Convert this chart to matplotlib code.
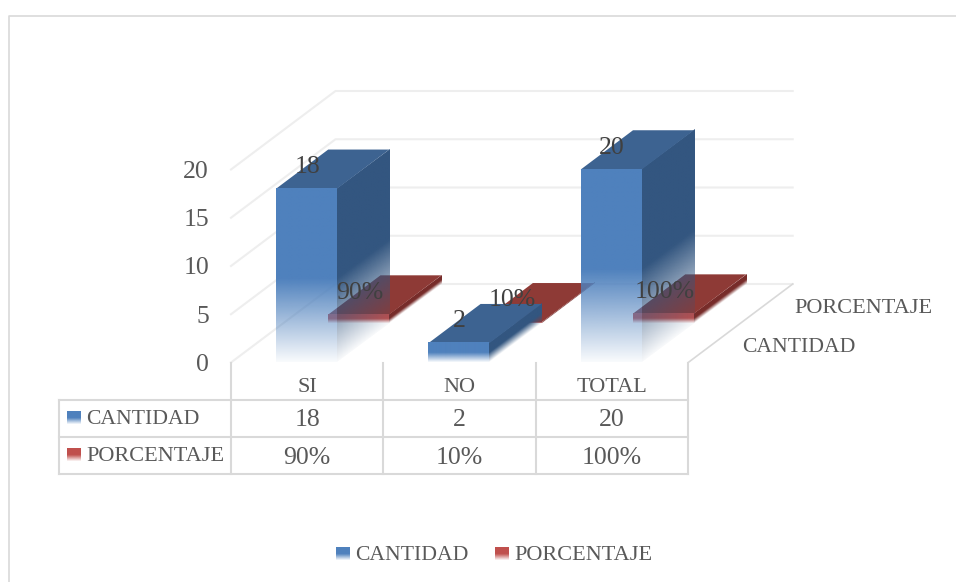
import numpy as np
import matplotlib
matplotlib.use('Agg')
import matplotlib.pyplot as plt
from matplotlib.colors import to_rgb
from matplotlib.patches import Polygon
from matplotlib.transforms import Affine2D

categories = ['SI', 'NO', 'TOTAL']
cantidad = [18, 2, 20]
porcentaje = [0.9, 0.1, 1.0]
series_names = ['CANTIDAD', 'PORCENTAJE']
value_ticks = [0, 5, 10, 15, 20]

# oblique projection of the 3d chart, in pixels
X0, Y0 = 231.0, 362.5
CAT_W = 152.4
DX, DY = 104.5, 78.5
V_PX = 9.65
BAR_W = 0.40
BAR_D = 0.50
BAR_MID = 0.495

TEXT = '#595959'
LABEL = '#404040'
GRID = '#eeeeee'
LINE = '#d9d9d9'
NAME_SIZE = 16
NUM_SIZE = 18.5
plt.rcParams['font.family'] = ['Liberation Serif', 'DejaVu Serif']


def proj(c, d, v):
    return X0 + CAT_W * c + DX * d, Y0 - DY * d - V_PX * v


def fade_quad(ax, tl, tr, bl, color, zorder):
    # parallelogram, solid down to the middle of the face then fading to the bottom
    t = np.linspace(0, 1, 120)
    alpha = np.where(t < 0.52, 1.0, 1.0 - 0.96 * (t - 0.52) / 0.48)
    img = np.ones((120, 2, 4))
    img[:, :, :3] = to_rgb(color)
    img[:, :, 3] = alpha[:, None]
    m = np.array([[tr[0] - tl[0], bl[0] - tl[0], tl[0]],
                  [tr[1] - tl[1], bl[1] - tl[1], tl[1]],
                  [0, 0, 1]])
    im = ax.imshow(img, extent=(0, 1, 1, 0), origin='upper', interpolation='bilinear',
                   aspect='auto', zorder=zorder)
    im.set_transform(Affine2D(m) + ax.transData)


def bar3d(ax, i, d0, d1, v, front, top, side, zorder):
    c0, c1 = i + BAR_MID - BAR_W / 2, i + BAR_MID + BAR_W / 2
    fade_quad(ax, proj(c1, d0, v), proj(c1, d1, v), proj(c1, d0, 0), side, zorder)
    ax.add_patch(Polygon([proj(c0, d0, v), proj(c1, d0, v), proj(c1, d1, v), proj(c0, d1, v)],
                         closed=True, fc=top, ec='none', zorder=zorder))
    fade_quad(ax, proj(c0, d0, v), proj(c1, d0, v), proj(c0, d0, 0), front, zorder)


def swatch(ax, x, y, color):
    fade_quad(ax, (x, y), (x + 14, y), (x, y + 13), color, 6)


fig = plt.figure(figsize=(9.56, 5.82), dpi=100)
ax = fig.add_axes([0, 0, 1, 1])

# chart border, right and bottom sides are cut off in the picture
ax.plot([9, 9, 956], [582, 15.5, 15.5], color=LINE, lw=1.2, zorder=1)

# walls and floor
n = len(categories)
for v in value_ticks:
    pts = [proj(0, 0, v), proj(0, 1, v), proj(n, 1, v)]
    ax.plot(*zip(*pts), color=GRID, lw=1.5, zorder=1)
ax.plot(*zip(proj(n, 0, 0), proj(n, 1, 0)), color=LINE, lw=1.2, zorder=1)
for v in value_ticks:
    x, y = proj(0, 0, v)
    ax.text(x - 22, y + 2.5, str(v), ha='right', va='center', fontsize=NUM_SIZE, color=TEXT, zorder=8)

# back series first, the blue bars are see-through at the bottom
for i, v in enumerate(porcentaje):
    bar3d(ax, i, BAR_D, 2 * BAR_D, v, '#c0504d', '#8e3a36', '#772c2a', 3)
for i, v in enumerate(cantidad):
    bar3d(ax, i, 0, BAR_D, v, '#4f81bd', '#3d6391', '#335680', 4)

for i, v in enumerate(cantidad):
    x, y = proj(i + 0.5, 0, v)
    ax.text(x, y - 22, str(v), ha='center', va='center', fontsize=NUM_SIZE, color=LABEL, zorder=8)
for i, v in enumerate(porcentaje):
    x, y = proj(i + 0.5, BAR_D, v)
    ax.text(x, y - 22, f'{v:.0%}', ha='center', va='center', fontsize=NUM_SIZE, color=LABEL, zorder=8)

# depth axis labels
for d, name, size in zip([0, 1], series_names, [15.6, NAME_SIZE]):
    x, y = proj(n, d * BAR_D, 0)
    ax.text(x + 54, y - 15, name, ha='left', va='center', fontsize=size, color=TEXT, zorder=8)

# data table
rows_y = [399.5, 437, 474]
for y in rows_y:
    ax.plot([59, proj(n, 0, 0)[0]], [y, y], color=LINE, lw=1.5, zorder=5)
ax.plot([59, 59], [rows_y[0], rows_y[-1]], color=LINE, lw=1.5, zorder=5)
for i in range(n + 1):
    x = proj(i, 0, 0)[0]
    ax.plot([x, x], [Y0, rows_y[-1]], color=LINE, lw=1.5, zorder=5)
for i, cat in enumerate(categories):
    x = proj(i + 0.5, 0, 0)[0]
    ax.text(x, 388, cat, ha='center', va='center', fontsize=NAME_SIZE, color=TEXT, zorder=8)
    ax.text(x, 419.5, str(cantidad[i]), ha='center', va='center', fontsize=NUM_SIZE, color=TEXT, zorder=8)
    ax.text(x, 458, f'{porcentaje[i]:.0%}', ha='center', va='center', fontsize=NUM_SIZE, color=TEXT, zorder=8)
for y, name, col, size in zip([418.5, 455.5], series_names, ['#4f81bd', '#c0504d'], [15.6, NAME_SIZE]):
    swatch(ax, 67, y - 7, col)
    ax.text(86, y + 1, name, ha='left', va='center', fontsize=size, color=TEXT, zorder=8)

# legend
for x, name, col, size in zip([336, 495], series_names, ['#4f81bd', '#c0504d'], [15.6, NAME_SIZE]):
    swatch(ax, x, 547, col)
    ax.text(x + 19, 555, name, ha='left', va='center', fontsize=size, color=TEXT, zorder=8)

ax.set_xlim(0, 956)
ax.set_ylim(582, 0)
ax.axis('off')
fig.savefig('out.png', dpi=100)
